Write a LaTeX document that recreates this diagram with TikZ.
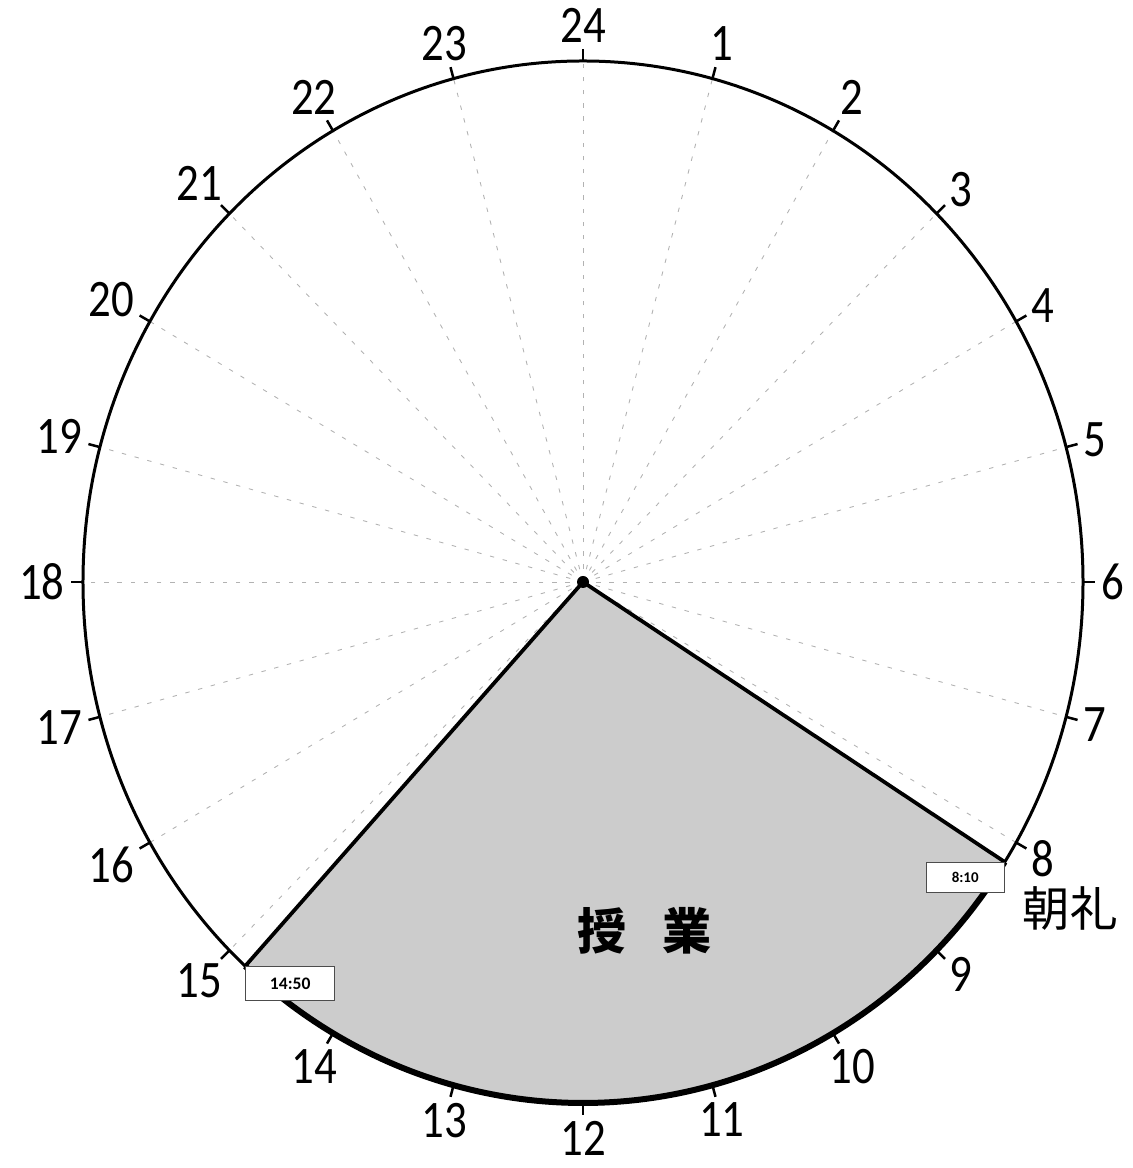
\documentclass[tikz,border=0pt]{standalone}
\usepackage{fontspec}
\setmainfont{Carlito}
\newfontfamily\numfont[FakeStretch=0.85]{Carlito}
\newfontfamily\cjk{Noto Sans CJK JP}
\begin{document}
\begin{tikzpicture}[x=0.02cm,y=0.02cm,
  radial/.style={gray!60, line width=0.5pt, dash pattern=on 2.5pt off 5pt},
  rim/.style={black, line width=0.06cm},
  thickrim/.style={black, line width=0.12cm},
  edge/.style={black, line width=0.075cm, line join=miter},
  wedgefill/.style={fill=black!20},
  tick/.style={black, line width=0.05cm},
  hourlabel/.style={inner sep=0pt, font=\fontsize{30}{30}\numfont},
  timebox/.style={draw=black!70, fill=white, line width=0.6pt, inner sep=0pt, font=\bfseries},
  cjklabel/.style={inner sep=0pt}]
\useasboundingbox (-583,-586) rectangle (549,582);
\coordinate (O) at (0,0);
% radial dashed guide lines
\foreach \h in {1,...,24}{
  \pgfmathsetmacro\a{90-15*\h}
  \draw[radial] (O) -- (\a:500 and 521);
}
% wedge 8:10 -> 14:50
\coordinate (S) at (-32.5:500 and 521);
\coordinate (E) at (-132.5:500 and 521);
\fill[wedgefill] (O) -- (S) arc[start angle=-32.5, end angle=-132.5, x radius=500, y radius=521] -- cycle;
% rim
\draw[rim] (O) ellipse[x radius=500, y radius=521];
\draw[thickrim] (S) arc[start angle=-32.5, end angle=-132.5, x radius=500, y radius=521];
\draw[edge] (S) -- (O) -- (E);
% ticks and labels
\foreach \h in {1,...,24}{
  \pgfmathsetmacro\a{90-15*\h}
  \pgfmathtruncatemacro\b{mod(630-15*\h,360)}
  \draw[tick] (\a:500 and 521) -- (\a:512 and 533);
  \node[hourlabel, anchor=\b] (h\h) at (\a:518 and 539) {\h};
}
\fill (O) circle[radius=6];
% time boxes
\node[timebox, anchor=north east, minimum width=1.56cm, minimum height=0.6cm, font=\bfseries\fontsize{8.5}{9}\selectfont] (t1) at (S) {8:10};
\node[timebox, anchor=north west, minimum width=1.78cm, minimum height=0.67cm, font=\bfseries\fontsize{10}{11}\selectfont] (t2) at (E) {14:50};
% japanese labels
\node[cjklabel, font=\fontsize{28}{30}\cjk\bfseries] (jugyo) at (62,-349) {授\hspace{0.72cm}業};
\node[cjklabel, font=\fontsize{27}{30}\cjk] (chorei) at (487,-326) {朝礼};
\end{tikzpicture}
\end{document}
